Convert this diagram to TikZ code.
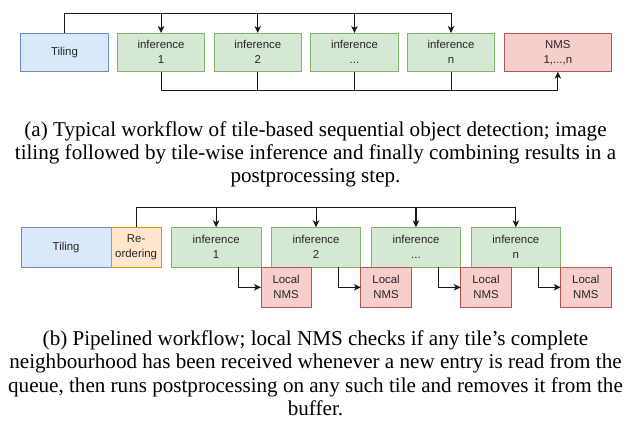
\documentclass[tikz,border=0pt]{standalone}
\usepackage{fontspec}
\setmainfont{Liberation Serif}
\newfontfamily\boxfont{Liberation Sans}
\usetikzlibrary{arrows.meta}
\definecolor{bfill}{HTML}{DAE8FC}\definecolor{bdraw}{HTML}{6C8EBF}
\definecolor{gfill}{HTML}{D5E8D4}\definecolor{gdraw}{HTML}{82B366}
\definecolor{rfill}{HTML}{F8CECC}\definecolor{rdraw}{HTML}{B85450}
\definecolor{ofill}{HTML}{FFE6CC}\definecolor{odraw}{HTML}{D79B00}
\begin{document}
\begin{tikzpicture}[x=1pt,y=-1pt,
  box/.style={line width=0.9pt, inner sep=0pt, outer sep=0pt, align=center,
    font=\boxfont\fontsize{11.4}{15}\selectfont, anchor=north west, text=black!85},
  bluebox/.style={box, fill=bfill, draw=bdraw},
  greenbox/.style={box, fill=gfill, draw=gdraw},
  redbox/.style={box, fill=rfill, draw=rdraw},
  orangebox/.style={box, fill=ofill, draw=odraw},
  conn/.style={line width=1.1pt, draw=black!90},
  arr/.style={conn, -{Stealth[length=7pt,width=6.5pt,inset=2pt]}},
  captext/.style={align=center, inner sep=0pt, font=\fontsize{21.1}{23.4}\selectfont, anchor=north}
]
\useasboundingbox (0,0) rectangle (627,421);
% ---------- (a)
\node[bluebox, minimum width=87.5pt, minimum height=38.7pt] (tilA) at (20.7,33) {Tiling};
\node[greenbox, minimum width=87.5pt, minimum height=38.7pt] (infA1) at (117.3,33) {inference\\1};
\node[greenbox, minimum width=87.5pt, minimum height=38.7pt] (infA2) at (214,33) {inference\\2};
\node[greenbox, minimum width=87.5pt, minimum height=38.7pt] (infA3) at (310.7,33) {inference\\...};
\node[greenbox, minimum width=87.5pt, minimum height=38.7pt] (infA4) at (407.3,33) {inference\\n};
\node[redbox, minimum width=107.7pt, minimum height=38.7pt] (nmsA) at (504,33) {NMS\\1,...,n};
\coordinate (topA) at (0,13.7);
\coordinate (botA) at (0,90.7);
\draw[arr] (tilA.north) -- (tilA.north |- topA) -| (infA4.north);
\foreach \k in {1,2,3} \draw[arr] (infA\k.north |- topA) -- (infA\k.north);
\draw[arr] (infA1.south) |- (nmsA.south |- botA) -- (nmsA.south);
\foreach \k in {2,3,4} \draw[conn] (infA\k.south) -- (infA\k.south |- botA);
\node[captext] (capA) at (315.5,121.1) {(a) Typical workflow of tile-based sequential object detection; image\\tiling followed by tile-wise inference and finally combining results in a\\postprocessing step.};
% ---------- (b)
\node[bluebox, minimum width=89.7pt, minimum height=40pt] (tilB) at (21.3,227.3) {Tiling};
\node[orangebox, minimum width=50.3pt, minimum height=40pt] (reo) at (111,227.3) {Re-\\ordering};
\node[greenbox, minimum width=89.7pt, minimum height=40pt] (infB1) at (171.3,227.3) {inference\\1};
\node[greenbox, minimum width=89.7pt, minimum height=40pt] (infB2) at (271.2,227.3) {inference\\2};
\node[greenbox, minimum width=89.7pt, minimum height=40pt] (infB3) at (371.1,227.3) {inference\\...};
\node[greenbox, minimum width=89.7pt, minimum height=40pt] (infB4) at (471,227.3) {inference\\n};
\node[redbox, minimum width=50.3pt, minimum height=40pt] (loc1) at (261,267.3) {Local\\NMS};
\node[redbox, minimum width=50.3pt, minimum height=40pt] (loc2) at (360.9,267.3) {Local\\NMS};
\node[redbox, minimum width=50.3pt, minimum height=40pt] (loc3) at (460.8,267.3) {Local\\NMS};
\node[redbox, minimum width=50.3pt, minimum height=40pt] (loc4) at (560.7,267.3) {Local\\NMS};
\coordinate (topB) at (0,207.7);
\draw[arr] (reo.north) |- (infB4.north |- topB) -- (infB4.north);
\foreach \k in {1,2,3} \draw[arr] (infB\k.north |- topB) -- (infB\k.north);
\foreach \k in {1,2,3,4} \draw[arr] ([xshift=-22.4pt]infB\k.south east) |- (loc\k.west);
\node[captext] (capB) at (315.5,330.4) {(b) Pipelined workflow; local NMS checks if any tile’s complete\\neighbourhood has been received whenever a new entry is read from the\\queue, then runs postprocessing on any such tile and removes it from the\\buffer.};
\end{tikzpicture}
\end{document}
